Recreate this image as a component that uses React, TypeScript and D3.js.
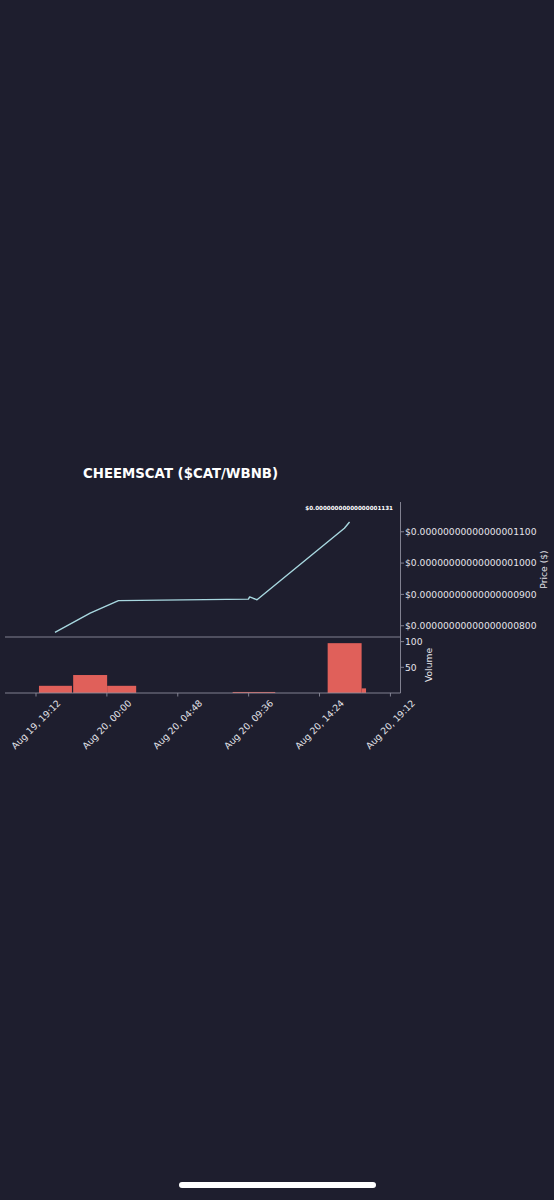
import React from "react";
import * as d3 from "d3";

const TITLE = "CHEEMSCAT ($CAT/WBNB)";

// price series (time, price in units of 1e-20 $)
const priceTimes = [
  "08-19 20:29", "08-19 22:52", "08-20 00:47", "08-20 09:35",
  "08-20 09:40", "08-20 09:56", "08-20 10:10", "08-20 16:05", "08-20 16:26",
];
const priceValues = [779, 840, 880, 885, 892, 887, 883, 1111, 1131];

// volume bars (start, end, value)
const volStarts = ["08-19 19:24", "08-19 21:43", "08-20 00:01", "08-20 08:31", "08-20 14:57", "08-20 17:15"];
const volEnds = ["08-19 21:38", "08-20 00:01", "08-20 01:59", "08-20 11:24", "08-20 17:15", "08-20 17:33"];
const volValues = [14, 35, 14, 2, 97, 9];

const xTicks = ["08-19 19:12", "08-20 00:00", "08-20 04:48", "08-20 09:36", "08-20 14:24", "08-20 19:12"];
const xTickLabels = ["Aug 19, 19:12", "Aug 20, 00:00", "Aug 20, 04:48", "Aug 20, 09:36", "Aug 20, 14:24", "Aug 20, 19:12"];
const priceTicks = [800, 900, 1000, 1100];
const volTicks = [50, 100];
const xDomain = ["08-19 17:06", "08-20 19:53"];
const priceDomain = [764, 1195];
const volDomain = [0, 109];

const parse = d3.timeParse("%m-%d %H:%M");
const fmtPrice = (v: number) => "$0." + String(Math.round(v)).padStart(20, "0");

const BG = "#1e1e2e";
const FONT = "'DejaVu Sans', sans-serif";

export default function App() {
  const W = 554, H = 1200;
  const left = 5, right = 400.5;
  const pTop = 502, pBot = 637, vTop = 637, vBot = 693;

  const x = d3.scaleTime().domain(xDomain.map((s) => parse(s)!)).range([left, right]);
  const yP = d3.scaleLinear().domain(priceDomain).range([pBot, pTop]);
  const yV = d3.scaleLinear().domain(volDomain).range([vBot, vTop]);

  const pts = priceTimes.map((t, i) => [parse(t)!, priceValues[i]] as [Date, number]);
  const line = d3.line<[Date, number]>().x((d) => x(d[0])).y((d) => yP(d[1]));
  const last = pts[pts.length - 1];

  const tickColor = "#e4e4ea";
  const spine = "#8c8c9c";
  const fs = 9.2;

  return (
    <svg width={W} height={H} style={{ position: "absolute", left: 0, top: 0, background: BG, display: "block" }} fontFamily={FONT}>
      <rect x={0} y={0} width={W} height={H} fill={BG} />
      <text x={180.5} y={478} textAnchor="middle" fill="#ffffff" fontWeight="bold" fontSize={13.3}>{TITLE}</text>

      {/* volume bars */}
      {volValues.map((v, i) => {
        const x0 = x(parse(volStarts[i])!);
        const x1 = x(parse(volEnds[i])!);
        return <rect key={i} x={x0} y={yV(v)} width={x1 - x0} height={yV(0) - yV(v)} fill="#e0605a" />;
      })}

      {/* price line */}
      <path d={line(pts) || ""} fill="none" stroke="#a8d8e0" strokeWidth={1.4} strokeLinejoin="round" />
      <text x={393} y={509.5} textAnchor="end" fill="#ffffff" fontWeight="bold" fontSize={5.6}>{fmtPrice(last[1])}</text>

      {/* spines */}
      <line x1={left} x2={right} y1={pBot} y2={pBot} stroke={spine} strokeWidth={0.9} />
      <line x1={left} x2={right} y1={vBot} y2={vBot} stroke={spine} strokeWidth={0.9} />
      <line x1={right} x2={right} y1={pTop} y2={vBot} stroke={spine} strokeWidth={0.9} />

      {/* price ticks */}
      {priceTicks.map((t) => (
        <g key={t}>
          <line x1={right} x2={right + 3.5} y1={yP(t)} y2={yP(t)} stroke={spine} strokeWidth={0.9} />
          <text x={405} y={yP(t)} dy="0.35em" fill={tickColor} fontSize={fs}>{fmtPrice(t)}</text>
        </g>
      ))}
      <text transform={`translate(547,569.5) rotate(-90)`} textAnchor="middle" fill={tickColor} fontSize={fs}>Price ($)</text>

      {/* volume ticks */}
      {volTicks.map((t) => (
        <g key={t}>
          <line x1={right} x2={right + 3.5} y1={yV(t)} y2={yV(t)} stroke={spine} strokeWidth={0.9} />
          <text x={405} y={yV(t)} dy="0.35em" fill={tickColor} fontSize={fs}>{t}</text>
        </g>
      ))}
      <text transform={`translate(432,665) rotate(-90)`} textAnchor="middle" fill={tickColor} fontSize={fs}>Volume</text>

      {/* x ticks */}
      {xTicks.map((t, i) => {
        const tx = x(parse(t)!);
        return (
          <g key={t}>
            <line x1={tx} x2={tx} y1={vBot} y2={vBot + 3.5} stroke={spine} strokeWidth={0.9} />
            <text transform={`translate(${tx},724.5) rotate(-45)`} textAnchor="middle" dy="0.35em" fill={tickColor} fontSize={fs}>{xTickLabels[i]}</text>
          </g>
        );
      })}

      {/* home indicator */}
      <rect x={179} y={1182} width={197} height={6} rx={3} fill="#ffffff" />
    </svg>
  );
}
